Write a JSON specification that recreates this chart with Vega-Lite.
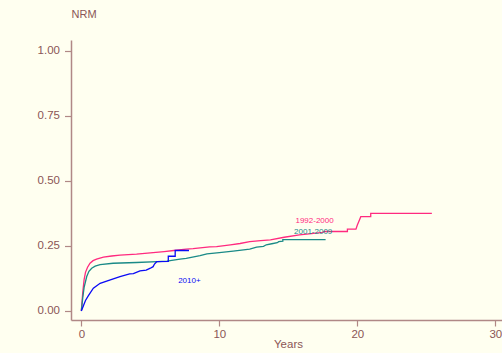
{
  "$schema": "https://vega.github.io/schema/vega-lite/v6.json",
  "width": 434,
  "height": 280,
  "autosize": {"type": "none"},
  "padding": {"left": 71, "top": 40, "right": 0, "bottom": 33},
  "background": "#fffff0",
  "config": {
    "view": {"stroke": null},
    "font": "Liberation Sans",
    "axis": {
      "domainColor": "#b08886",
      "tickColor": "#b08886",
      "domainWidth": 1.5,
      "tickWidth": 1.2,
      "labelColor": "#8b5656",
      "titleColor": "#8b5656",
      "labelFont": "Liberation Sans",
      "titleFont": "Liberation Sans",
      "titleFontWeight": "normal",
      "grid": false
    }
  },
  "datasets": {
    "curves": [
      {"period": "1992-2000", "t": 0, "p": 0},
      {"period": "1992-2000", "t": 0.1, "p": 0.07},
      {"period": "1992-2000", "t": 0.2, "p": 0.12},
      {"period": "1992-2000", "t": 0.3, "p": 0.148},
      {"period": "1992-2000", "t": 0.45, "p": 0.168},
      {"period": "1992-2000", "t": 0.63, "p": 0.183},
      {"period": "1992-2000", "t": 0.85, "p": 0.193},
      {"period": "1992-2000", "t": 1.1, "p": 0.199},
      {"period": "1992-2000", "t": 1.6, "p": 0.207},
      {"period": "1992-2000", "t": 2.2, "p": 0.211},
      {"period": "1992-2000", "t": 2.8, "p": 0.214},
      {"period": "1992-2000", "t": 4.0, "p": 0.218},
      {"period": "1992-2000", "t": 5.2, "p": 0.224},
      {"period": "1992-2000", "t": 6.0, "p": 0.228},
      {"period": "1992-2000", "t": 6.7, "p": 0.232},
      {"period": "1992-2000", "t": 7.6, "p": 0.237},
      {"period": "1992-2000", "t": 8.1, "p": 0.239},
      {"period": "1992-2000", "t": 9.3, "p": 0.246},
      {"period": "1992-2000", "t": 9.8, "p": 0.247},
      {"period": "1992-2000", "t": 10.8, "p": 0.254},
      {"period": "1992-2000", "t": 11.5, "p": 0.259},
      {"period": "1992-2000", "t": 12.2, "p": 0.266},
      {"period": "1992-2000", "t": 13.0, "p": 0.27},
      {"period": "1992-2000", "t": 13.7, "p": 0.273},
      {"period": "1992-2000", "t": 14.7, "p": 0.283},
      {"period": "1992-2000", "t": 15.8, "p": 0.292},
      {"period": "1992-2000", "t": 16.5, "p": 0.296},
      {"period": "1992-2000", "t": 17.5, "p": 0.302},
      {"period": "1992-2000", "t": 17.6, "p": 0.305},
      {"period": "1992-2000", "t": 19.28, "p": 0.305},
      {"period": "1992-2000", "t": 19.28, "p": 0.314},
      {"period": "1992-2000", "t": 19.9, "p": 0.314},
      {"period": "1992-2000", "t": 20.0, "p": 0.33},
      {"period": "1992-2000", "t": 20.1, "p": 0.343},
      {"period": "1992-2000", "t": 20.25, "p": 0.362},
      {"period": "1992-2000", "t": 20.97, "p": 0.362},
      {"period": "1992-2000", "t": 20.97, "p": 0.375},
      {"period": "1992-2000", "t": 25.4, "p": 0.375},
      {"period": "2001-2009", "t": 0, "p": 0},
      {"period": "2001-2009", "t": 0.1, "p": 0.05},
      {"period": "2001-2009", "t": 0.2, "p": 0.09},
      {"period": "2001-2009", "t": 0.39, "p": 0.132},
      {"period": "2001-2009", "t": 0.55, "p": 0.152},
      {"period": "2001-2009", "t": 0.75, "p": 0.164},
      {"period": "2001-2009", "t": 1.0, "p": 0.172},
      {"period": "2001-2009", "t": 1.36, "p": 0.178},
      {"period": "2001-2009", "t": 2.3, "p": 0.183},
      {"period": "2001-2009", "t": 4.0, "p": 0.186},
      {"period": "2001-2009", "t": 5.5, "p": 0.189},
      {"period": "2001-2009", "t": 6.2, "p": 0.191},
      {"period": "2001-2009", "t": 7.15, "p": 0.199},
      {"period": "2001-2009", "t": 7.6, "p": 0.202},
      {"period": "2001-2009", "t": 8.6, "p": 0.212},
      {"period": "2001-2009", "t": 9.1, "p": 0.219},
      {"period": "2001-2009", "t": 10.0, "p": 0.224},
      {"period": "2001-2009", "t": 11.0, "p": 0.23},
      {"period": "2001-2009", "t": 12.2, "p": 0.237},
      {"period": "2001-2009", "t": 12.7, "p": 0.245},
      {"period": "2001-2009", "t": 13.2, "p": 0.248},
      {"period": "2001-2009", "t": 13.4, "p": 0.254},
      {"period": "2001-2009", "t": 13.8, "p": 0.258},
      {"period": "2001-2009", "t": 14.2, "p": 0.262},
      {"period": "2001-2009", "t": 14.3, "p": 0.266},
      {"period": "2001-2009", "t": 14.6, "p": 0.268},
      {"period": "2001-2009", "t": 14.6, "p": 0.274},
      {"period": "2001-2009", "t": 17.7, "p": 0.274},
      {"period": "2010+", "t": 0, "p": 0},
      {"period": "2010+", "t": 0.15, "p": 0.02},
      {"period": "2010+", "t": 0.3, "p": 0.04},
      {"period": "2010+", "t": 0.5, "p": 0.058},
      {"period": "2010+", "t": 0.87, "p": 0.087},
      {"period": "2010+", "t": 1.36, "p": 0.106},
      {"period": "2010+", "t": 2.1, "p": 0.119},
      {"period": "2010+", "t": 2.8, "p": 0.132},
      {"period": "2010+", "t": 3.5, "p": 0.142},
      {"period": "2010+", "t": 3.77, "p": 0.143},
      {"period": "2010+", "t": 4.25, "p": 0.154},
      {"period": "2010+", "t": 4.7, "p": 0.157},
      {"period": "2010+", "t": 5.0, "p": 0.164},
      {"period": "2010+", "t": 5.2, "p": 0.17},
      {"period": "2010+", "t": 5.3, "p": 0.18},
      {"period": "2010+", "t": 5.46, "p": 0.189},
      {"period": "2010+", "t": 6.3, "p": 0.19},
      {"period": "2010+", "t": 6.3, "p": 0.21},
      {"period": "2010+", "t": 6.8, "p": 0.21},
      {"period": "2010+", "t": 6.8, "p": 0.232},
      {"period": "2010+", "t": 7.8, "p": 0.232}
    ],
    "labels": [
      {"period": "1992-2000", "t": 16.9, "p": 0.346},
      {"period": "2001-2009", "t": 16.8, "p": 0.305},
      {"period": "2010+", "t": 7.83, "p": 0.113}
    ]
  },
  "layer": [
    {
      "data": {"name": "curves"},
      "mark": {"type": "line", "strokeWidth": 1.3},
      "encoding": {
        "x": {
          "field": "t", "type": "quantitative",
          "scale": {"domain": [-0.75, 30.7], "nice": false, "zero": false},
          "axis": {
            "values": [0, 10, 20, 30], "format": "d",
            "title": "Years", "titleFontSize": 11.5, "labelFontSize": 11.5,
            "tickSize": 6, "labelPadding": 2,
            "titleX": 217, "titleY": 24, "titleBaseline": "middle", "titleAnchor": "middle"
          }
        },
        "y": {
          "field": "p", "type": "quantitative",
          "scale": {"domain": [-0.035, 1.041], "nice": false, "zero": false},
          "axis": {
            "values": [0, 0.25, 0.5, 0.75, 1.0], "format": ".2f",
            "title": "NRM", "titleFontSize": 11, "labelFontSize": 11.5,
            "tickSize": 6.5, "labelPadding": 5,
            "titleAngle": 0, "titleX": 0, "titleY": -26,
            "titleAlign": "left", "titleBaseline": "middle"
          }
        },
        "color": {
          "field": "period", "type": "nominal",
          "scale": {"domain": ["1992-2000", "2001-2009", "2010+"], "range": ["#ff2a7f", "#1a8a87", "#0a0af5"]},
          "legend": null
        }
      }
    },
    {
      "data": {"name": "labels"},
      "mark": {"type": "text", "fontSize": 8, "align": "center", "baseline": "middle"},
      "encoding": {
        "x": {"field": "t", "type": "quantitative"},
        "y": {"field": "p", "type": "quantitative"},
        "text": {"field": "period"},
        "color": {"field": "period", "type": "nominal", "legend": null}
      }
    }
  ]
}
